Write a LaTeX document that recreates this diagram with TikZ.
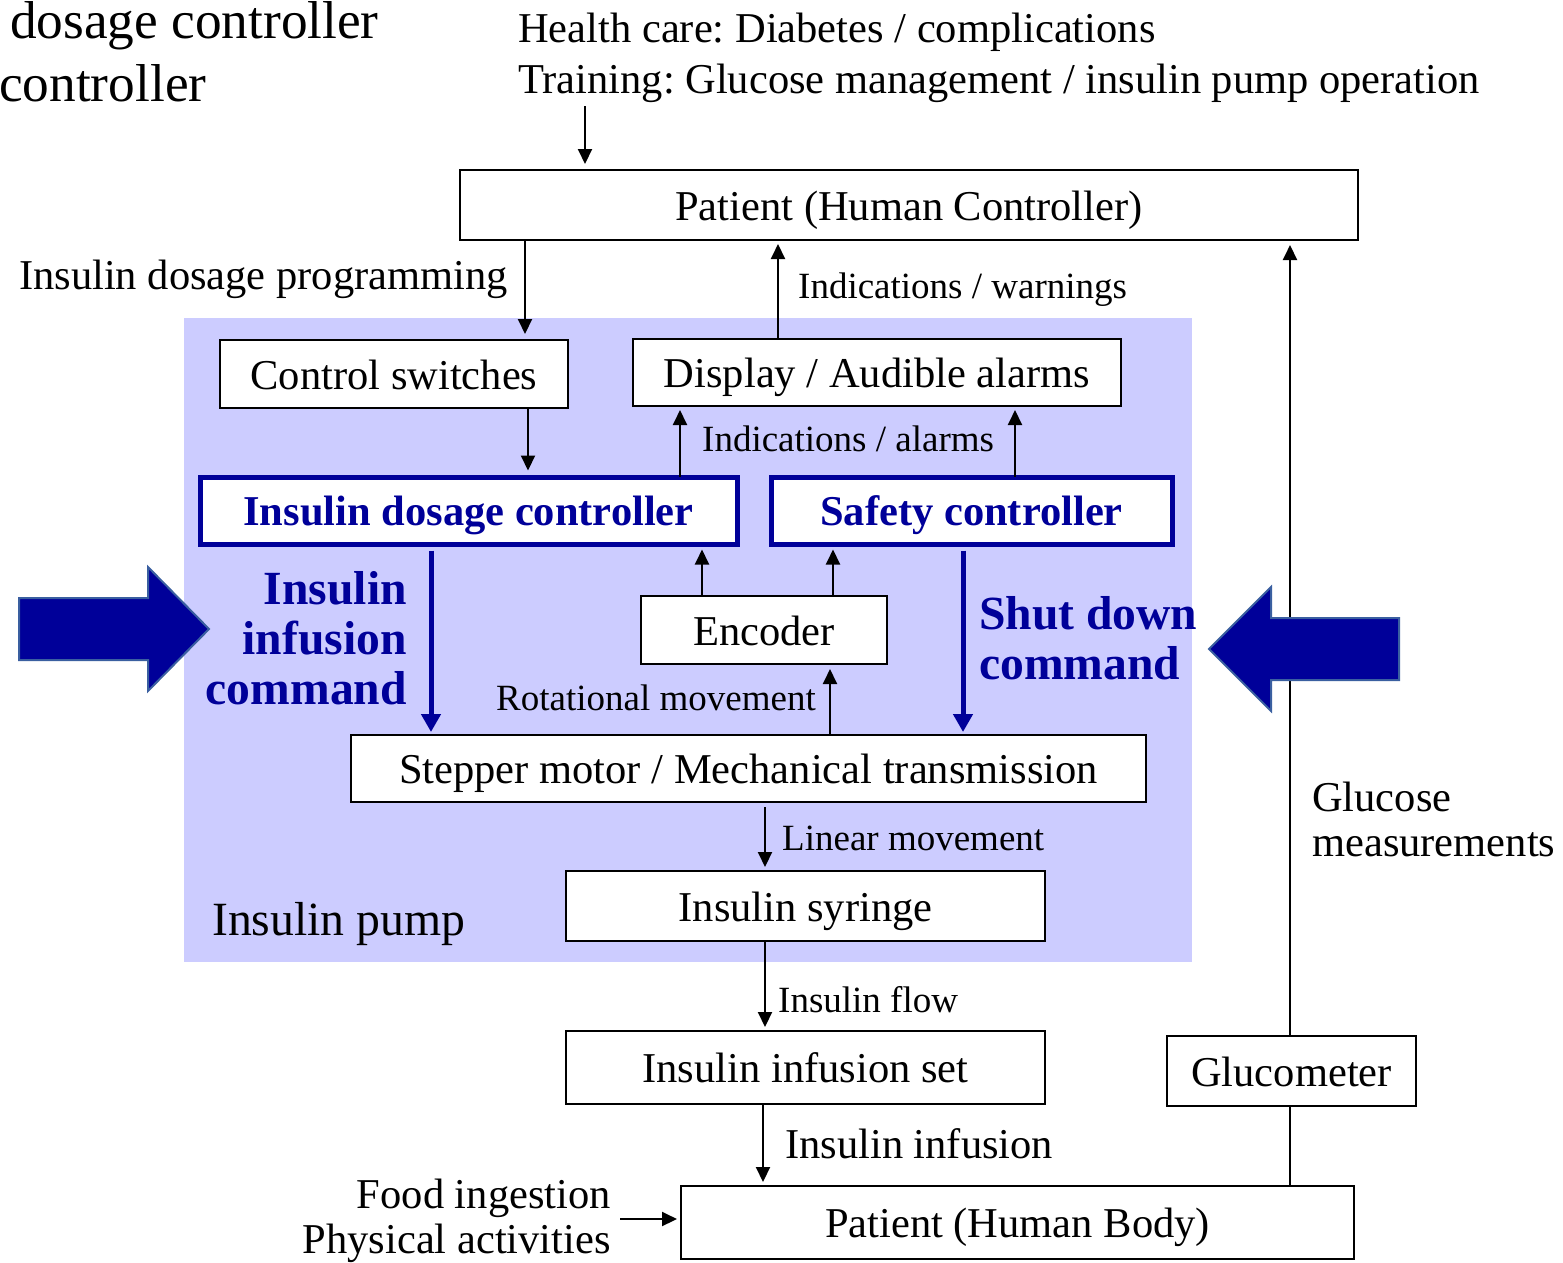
\documentclass[tikz,border=0pt]{standalone}
\usepackage{fontspec}
\setmainfont{Liberation Serif}
\usetikzlibrary{arrows.meta}

\definecolor{navy}{RGB}{0,0,153}
\definecolor{pumpbg}{RGB}{204,204,255}
\definecolor{blockedge}{RGB}{58,95,160}

\newcommand{\bigtxt}{\fontsize{42.5}{51}\selectfont}
\newcommand{\smalltxt}{\fontsize{37}{44}\selectfont}
\newcommand{\cmdtxt}{\fontsize{47.6}{50}\selectfont\bfseries}

\tikzset{
  box/.style={draw=black, line width=2pt, fill=white, inner sep=0pt, font=\bigtxt,
              text height=30pt, text depth=0pt},
  ctrlbox/.style={draw=navy, line width=5pt, fill=white, inner sep=0pt,
                  font=\bigtxt\bfseries, text=navy, text height=30pt, text depth=0pt},
  lbl/.style={inner sep=0pt, font=\smalltxt},
  biglbl/.style={inner sep=0pt, font=\bigtxt},
  cmdlbl/.style={inner sep=0pt, font=\cmdtxt, text=navy},
  arr/.style={line width=2pt, -{Triangle[length=15pt,width=14pt]}},
  cmdarr/.style={line width=5pt, draw=navy, -{Triangle[length=18pt,width=19pt]}},
  plain/.style={line width=2pt},
  blockarrow/.style={fill=navy, draw=blockedge, line width=2pt, line join=miter}
}

\begin{document}
\frenchspacing
\begin{tikzpicture}[x=1pt,y=-1pt]
\useasboundingbox (0,0) rectangle (1563,1262);

% insulin pump enclosure
\fill[pumpbg] (184,318) rectangle (1192,962);
\node[anchor=base west, inner sep=0pt, font=\fontsize{47.7}{54}\selectfont] (pumplbl) at (212,935) {Insulin pump};

% blocks
\node[box, minimum width=898pt, minimum height=70pt] (pc)   at (909,205)    {Patient (Human Controller)};
\node[box, minimum width=348pt, minimum height=68pt] (cs)   at (394,374)    {Control switches};
\node[box, minimum width=488pt, minimum height=67pt] (disp) at (877,372.5)  {Display / Audible alarms};
\node[ctrlbox, minimum width=537pt, minimum height=67pt] (idc) at (468.5,510.5) {Insulin dosage controller};
\node[ctrlbox, minimum width=401pt, minimum height=67pt] (sc)  at (971.5,510.5) {Safety controller};
\node[box, minimum width=246pt, minimum height=68pt] (enc)  at (764,630)    {Encoder};
\node[box, minimum width=795pt, minimum height=67pt] (step) at (748.5,768.5){Stepper motor / Mechanical transmission};
\node[box, minimum width=479pt, minimum height=70pt] (syr)  at (805.5,906)  {Insulin syringe};
\node[box, minimum width=479pt, minimum height=73pt] (inf)  at (805.5,1067.5){Insulin infusion set};
\node[box, minimum width=249pt, minimum height=70pt] (glu)  at (1291.5,1071){Glucometer};
\node[box, minimum width=673pt, minimum height=73pt] (body) at (1017.5,1222.5){Patient (Human Body)};

% free text
\node[anchor=north west, align=left, inner sep=0pt, font=\fontsize{53.3}{63}\selectfont] (stray) at (-1,1.5)
  {\hspace*{11pt}dosage controller\\controller};
\node[biglbl, anchor=north west, align=left, font=\fontsize{42.5}{51}\selectfont] (ext) at (518,13)
  {Health care: Diabetes / complications\\Training: Glucose management / insulin pump operation};
\node[biglbl, anchor=base east] (prog) at (508,289) {Insulin dosage programming};
\node[lbl, anchor=base west] (warn) at (798,298) {Indications / warnings};
\node[lbl, anchor=base west] (alarm) at (702,451) {Indications / alarms};
\node[lbl, anchor=base east] (rot) at (816,710) {Rotational movement};
\node[lbl, anchor=base west] (lin) at (782,850) {Linear movement};
\node[lbl, anchor=base west] (flow) at (778,1012) {Insulin flow};
\node[biglbl, anchor=base west] (infl) at (785,1158) {Insulin infusion};
\node[biglbl, anchor=north east, align=right, font=\fontsize{42.5}{45}\selectfont] (dist) at (611,1179)
  {Food ingestion\\Physical activities};
\node[biglbl, anchor=north west, align=left, font=\fontsize{42.5}{45}\selectfont] (meas) at (1312,782)
  {Glucose\\measurements};
\node[cmdlbl, anchor=north east, align=right] (icmd) at (407,571)
  {Insulin\\infusion\\command};
\node[cmdlbl, anchor=north west, align=left] (scmd) at (979,596)
  {Shut down\\command};

% x positions of the vertical connectors
\coordinate (xtr)  at (585,0);
\coordinate (xprog) at (525,0);
\coordinate (xwarn) at (778,0);
\coordinate (xcs)  at (528,0);
\coordinate (xia)  at (680,0);
\coordinate (xsa)  at (1015,0);
\coordinate (xei)  at (702,0);
\coordinate (xes)  at (833,0);
\coordinate (xrot) at (830,0);
\coordinate (xic)  at (431,0);
\coordinate (xsc)  at (963,0);
\coordinate (xlin) at (765,0);
\coordinate (xinf) at (763,0);
\coordinate (xglu) at (1290,0);
\coordinate (food) at (620,1219);

% connectors
\draw[arr, shorten <=3pt, shorten >=5pt] (ext.south -| xtr) -- (pc.north -| xtr);
\draw[arr, shorten >=5pt] (pc.south -| xprog) -- (cs.north -| xprog);
\draw[arr, shorten >=3pt] (disp.north -| xwarn) -- (pc.south -| xwarn);
\draw[arr, shorten >=4pt] (cs.south -| xcs) -- (idc.north -| xcs);
\draw[arr, shorten >=3pt, shorten <=-2pt] (idc.north -| xia) -- (disp.south -| xia);
\draw[arr, shorten >=3pt, shorten <=-2pt] (sc.north -| xsa) -- (disp.south -| xsa);
\draw[arr, shorten >=3pt] (enc.north -| xei) -- (idc.south -| xei);
\draw[arr, shorten >=3pt] (enc.north -| xes) -- (sc.south -| xes);
\draw[arr, shorten >=4pt] (step.north -| xrot) -- (enc.south -| xrot);
\draw[cmdarr, shorten <=4pt, shorten >=2pt] (idc.south -| xic) -- (step.north -| xic);
\draw[cmdarr, shorten <=4pt, shorten >=2pt] (sc.south -| xsc) -- (step.north -| xsc);
\draw[arr, shorten <=4pt, shorten >=3pt] (step.south -| xlin) -- (syr.north -| xlin);
\draw[arr, shorten >=3pt] (syr.south -| xlin) -- (inf.north -| xlin);
\draw[arr, shorten >=3pt] (inf.south -| xinf) -- (body.north -| xinf);
\draw[arr, shorten >=3pt] (food) -- (food -| body.west);
\draw[plain] (body.north -| xglu) -- (glu.south -| xglu);
\draw[arr, shorten >=4pt] (glu.north -| xglu) -- (pc.south -| xglu);

% block arrows towards the pump
\draw[blockarrow] (19,598) -- (148,598) -- (148,567) -- (209,629) -- (148,691) -- (148,660) -- (19,660) -- cycle;
\draw[blockarrow] (1399,618) -- (1271,618) -- (1271,587) -- (1209,649) -- (1271,711) -- (1271,680) -- (1399,680) -- cycle;
\end{tikzpicture}
\end{document}
